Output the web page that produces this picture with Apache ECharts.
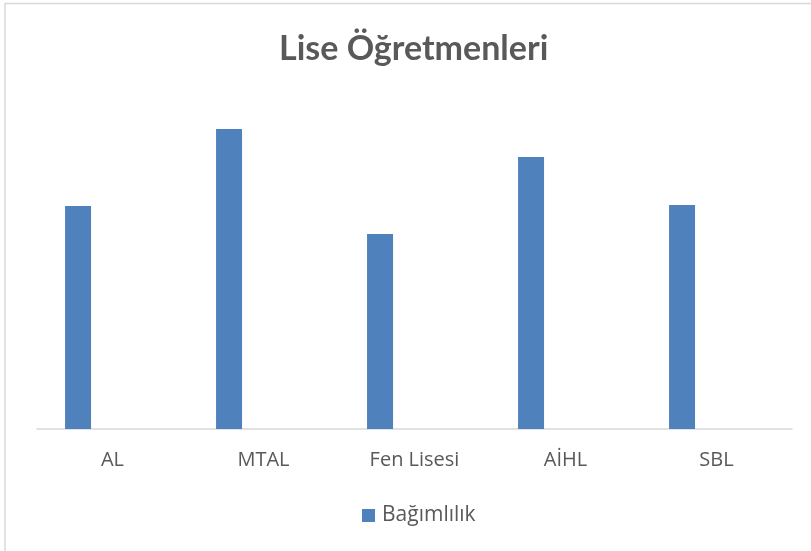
<!DOCTYPE html>
<html>
<head>
<meta charset="utf-8">
<script src="https://cdn.jsdelivr.net/npm/echarts@6/dist/echarts.min.js"></script>
<style>
  html, body { margin: 0; padding: 0; background: #fff; }
  #chart { width: 811px; height: 551px; }
</style>
</head>
<body>
<div id="chart"></div>
<script>
// Chart content
const chartTitle = 'Lise Öğretmenleri';
const schoolTypes = ['AL', 'MTAL', 'Fen Lisesi', 'AİHL', 'SBL'];
const seriesName = 'Bağımlılık';
const addictionScores = [2.23, 3.00, 1.95, 2.72, 2.24];

const textColor = '#595959';
const barColor = '#4F81BD';

const chart = echarts.init(document.getElementById('chart'), null, { renderer: 'canvas' });

chart.setOption({
  backgroundColor: '#ffffff',
  animation: false,
  title: {
    text: chartTitle,
    left: 279,
    top: 32,
    padding: 0,
    textStyle: {
      fontFamily: 'Lato',
      fontWeight: 'bold',
      fontSize: 34,
      color: textColor
    }
  },
  legend: {
    data: [seriesName],
    left: 362,
    top: 505,
    padding: 0,
    itemWidth: 13,
    itemHeight: 13,
    itemGap: 10,
    icon: 'rect',
    textStyle: {
      fontFamily: 'Open Sans',
      fontSize: 21,
      color: textColor,
      padding: [0, 0, 0, 2]
    }
  },
  grid: {
    left: 37,
    right: 19,
    top: 79,
    bottom: 122,
    containLabel: false
  },
  xAxis: {
    type: 'category',
    data: schoolTypes,
    axisLine: { show: true, lineStyle: { color: '#D9D9D9', width: 1.5 } },
    axisTick: { show: false },
    axisLabel: {
      margin: 21,
      fontFamily: 'Open Sans',
      fontSize: 20,
      color: textColor
    },
    splitLine: { show: false }
  },
  yAxis: {
    type: 'value',
    min: 0,
    max: 3.5,
    show: false
  },
  series: [
    {
      name: seriesName,
      type: 'bar',
      data: addictionScores,
      barWidth: 26,
      barGap: '165%',
      itemStyle: { color: barColor }
    },
    {
      // empty companion series keeps the bars shifted left in each category
      name: '',
      type: 'bar',
      data: schoolTypes.map(() => '-'),
      barWidth: 26,
      itemStyle: { color: 'transparent' }
    }
  ],
  graphic: [
    {
      type: 'rect',
      shape: { x: 5, y: 3.5, width: 820, height: 560 },
      style: { fill: 'none', stroke: '#D9D9D9', lineWidth: 1.5 },
      silent: true
    }
  ]
});
</script>
</body>
</html>
